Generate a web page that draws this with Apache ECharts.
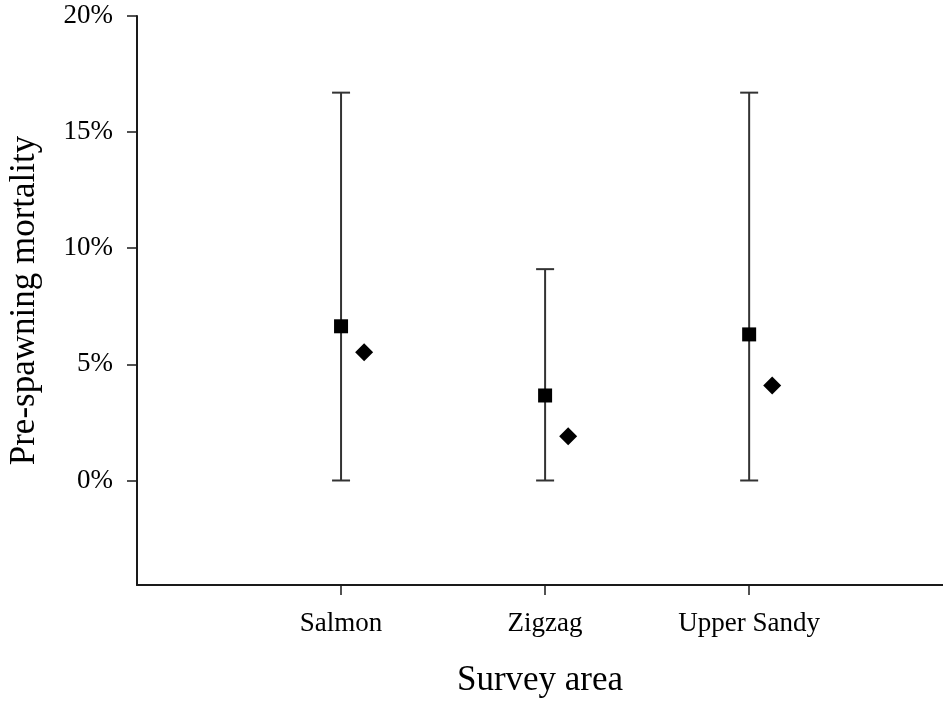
<!DOCTYPE html>
<html>
<head>
<meta charset="utf-8">
<script src="https://cdn.jsdelivr.net/npm/echarts@6/dist/echarts.min.js"></script>
<style>
html,body{margin:0;padding:0;background:#fff;}
#chart{width:943px;height:702px;}
</style>
</head>
<body>
<div id="chart"></div>
<script>
// Data
var categories = ['Salmon', 'Zigzag', 'Upper Sandy'];
var categoryPos = [1, 2, 3];
var squareValues = [6.64, 3.66, 6.29];   // % (with error bars)
var errLow = [0, 0, 0];
var errHigh = [16.7, 9.1, 16.7];
var diamondValues = [5.52, 1.90, 4.09];  // %
var diamondOffset = 0.113;
var yTicks = [0, 5, 10, 15, 20];

var squareData = categoryPos.map(function (x, i) { return [x, squareValues[i]]; });
var diamondData = categoryPos.map(function (x, i) { return [x + diamondOffset, diamondValues[i]]; });
var errData = categoryPos.map(function (x, i) { return [x, errLow[i], errHigh[i]]; });

var FONT = '"Liberation Serif", "DejaVu Serif", serif';
var AXIS_COLOR = '#1a1a1a';

var chart = echarts.init(document.getElementById('chart'), null, {renderer: 'canvas'});
chart.setOption({
  animation: false,
  backgroundColor: '#fff',
  grid: {left: 137, right: 0, top: 16, bottom: 117, containLabel: false, outerBoundsMode: 'none'},
  xAxis: {
    type: 'value',
    min: 0,
    max: 3.95,
    name: 'Survey area',
    nameLocation: 'middle',
    nameGap: 78,
    nameTextStyle: {fontFamily: FONT, fontSize: 35, color: '#000'},
    splitLine: {show: false},
    axisLine: {show: true, onZero: false, lineStyle: {color: AXIS_COLOR, width: 2}},
    axisTick: {show: true, length: 10, lineStyle: {color: AXIS_COLOR, width: 1.5}, customValues: categoryPos},
    axisLabel: {
      show: true,
      margin: 25,
      fontFamily: FONT, fontSize: 27, color: '#000',
      customValues: categoryPos,
      formatter: function (v) { var i = categoryPos.indexOf(v); return i >= 0 ? categories[i] : ''; }
    }
  },
  yAxis: {
    type: 'value',
    min: -4.5,
    max: 20,
    name: 'Pre-spawning mortality',
    nameLocation: 'middle',
    nameGap: 95,
    nameTextStyle: {fontFamily: FONT, fontSize: 35, color: '#000'},
    splitLine: {show: false},
    axisLine: {show: true, onZero: false, lineStyle: {color: AXIS_COLOR, width: 2}},
    axisTick: {show: true, length: 10, lineStyle: {color: AXIS_COLOR, width: 1.5}, customValues: yTicks},
    axisLabel: {
      show: true,
      margin: 24,
      fontFamily: FONT, fontSize: 27, color: '#000',
      customValues: yTicks,
      formatter: function (v) { return v + '%'; }
    }
  },
  series: [
    {
      type: 'custom',
      name: 'error',
      data: errData,
      encode: {x: 0, y: [1, 2]},
      renderItem: function (params, api) {
        var x = api.value(0);
        var lo = api.coord([x, api.value(1)]);
        var hi = api.coord([x, api.value(2)]);
        var cap = 9;
        var style = {stroke: '#333', lineWidth: 2};
        return {
          type: 'group',
          children: [
            {type: 'line', shape: {x1: lo[0], y1: lo[1], x2: hi[0], y2: hi[1]}, style: style},
            {type: 'line', shape: {x1: lo[0] - cap, y1: lo[1], x2: lo[0] + cap, y2: lo[1]}, style: style},
            {type: 'line', shape: {x1: hi[0] - cap, y1: hi[1], x2: hi[0] + cap, y2: hi[1]}, style: style}
          ]
        };
      },
      z: 1
    },
    {
      type: 'scatter',
      name: 'square',
      data: squareData,
      symbol: 'rect',
      symbolSize: 14,
      itemStyle: {color: '#000', opacity: 1},
      z: 3
    },
    {
      type: 'scatter',
      name: 'diamond',
      data: diamondData,
      symbol: 'diamond',
      symbolSize: [18, 18],
      itemStyle: {color: '#000', opacity: 1},
      z: 3
    }
  ]
});
</script>
</body>
</html>
